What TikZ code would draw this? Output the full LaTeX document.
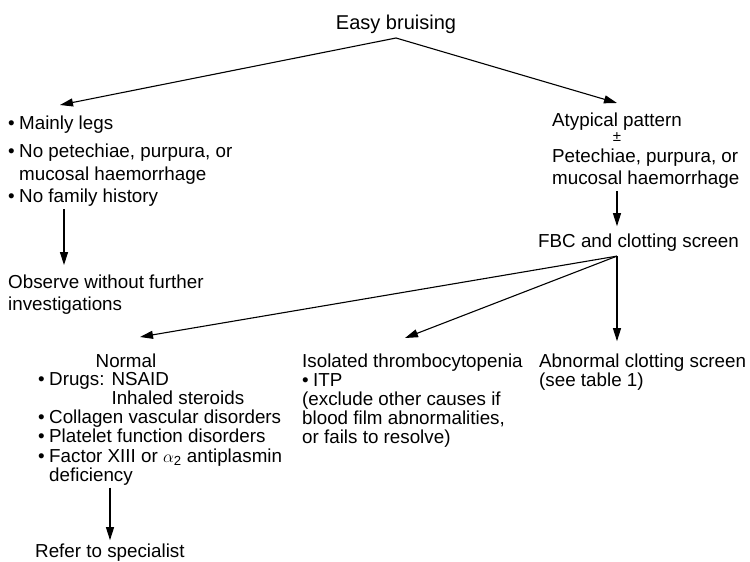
\documentclass[tikz,border=0pt]{standalone}
\usepackage{fontspec}
\setmainfont{Liberation Sans}
\usetikzlibrary{arrows.meta,positioning}

\newcommand{\itm}{\makebox[11pt][l]{\textbullet}}
\newcommand{\flowlines}[1]{\begin{tabular}[t]{@{}l@{}}#1\end{tabular}}

\begin{document}
\begin{tikzpicture}[
    x=1pt, y=1pt,
    every node/.style={inner sep=0pt},
    toptext/.style={font=\fontsize{18.8}{22.5}\selectfont, anchor=base west},
    lowtext/.style={font=\fontsize{18.8}{19}\selectfont, anchor=base west},
    arrow/.style={-{Triangle[length=13pt,width=8pt]}, line width=1.1pt}
]
    \useasboundingbox (0,0) rectangle (750,-562);

    % Start
    \node [toptext, font=\fontsize{20}{24}\selectfont, anchor=base] (easy) at (396,-29.6) {Easy bruising};
    \coordinate (split) at ([yshift=-8.4pt]easy.base);

    % Typical bruising
    \node [toptext] (typical) at (8,-129) {\flowlines{\itm Mainly legs\\[6pt] \itm No petechiae, purpura, or\\ \hspace*{11pt}mucosal haemorrhage\\ \itm No family history}};
    \node [toptext] (observe) at (8,-288) {\flowlines{Observe without further\\ investigations}};
    \coordinate (leftcol) at (64,0);

    % Atypical bruising
    \node [toptext] (atypical) at (552,-126) {Atypical pattern};
    \node [toptext, font=\fontsize{15}{18}\selectfont, anchor=base] (pm) at ([yshift=-15pt]atypical.base) {±};
    \node [toptext] (signs) at ([yshift=-36pt]atypical.base west) {\flowlines{Petechiae, purpura, or\\ mucosal haemorrhage}};
    \node [toptext] (fbc) at (538,-247) {FBC and clotting screen};
    \coordinate (fork) at ([yshift=-5pt]fbc.south -| pm);

    % Results
    \node [lowtext, anchor=base] (normal) at (126,-367) {Normal};
    \node [lowtext] (causes) at (38,-385) {\flowlines{\itm Drugs: NSAID\\ \hspace*{11pt}\phantom{Drugs: }Inhaled steroids\\ \itm Collagen vascular disorders\\ \itm Platelet function disorders\\ \itm Factor XIII or $\alpha$\textsubscript{2} antiplasmin\\ \hspace*{11pt}deficiency}};
    \coordinate (midcol) at ([xshift=72pt]causes.south west);
    \node [lowtext] (refer) at (35,-557) {Refer to specialist};
    \node [lowtext] (isolated) at (302,-367) {\flowlines{Isolated thrombocytopenia\\ \itm ITP\\ (exclude other causes if\\ blood film abnormalities,\\ or fails to resolve)}};
    \node [lowtext] (abnormal) at (539,-367) {\flowlines{Abnormal clotting screen\\ (see table 1)}};

    % Connections
    \draw [arrow] (split) -- ([xshift=52pt,yshift=24pt]typical.base west);
    \draw [arrow] (split) -- ([yshift=23pt]atypical.base);
    \draw [arrow] (typical.south -| leftcol) -- ([yshift=7pt]observe.north -| leftcol);
    \draw [arrow] (signs.south -| pm) -- ([yshift=7pt]fbc.north -| pm);
    \draw [arrow] (fork) -- ([xshift=14pt,yshift=30pt]normal.base);
    \draw [arrow] (fork) -- ([xshift=103pt,yshift=29pt]isolated.base west);
    \draw [arrow] (fork) -- ([yshift=12pt]abnormal.north -| pm);
    \draw [arrow] (midcol) -- ([yshift=3pt]refer.north -| midcol);
\end{tikzpicture}
\end{document}
